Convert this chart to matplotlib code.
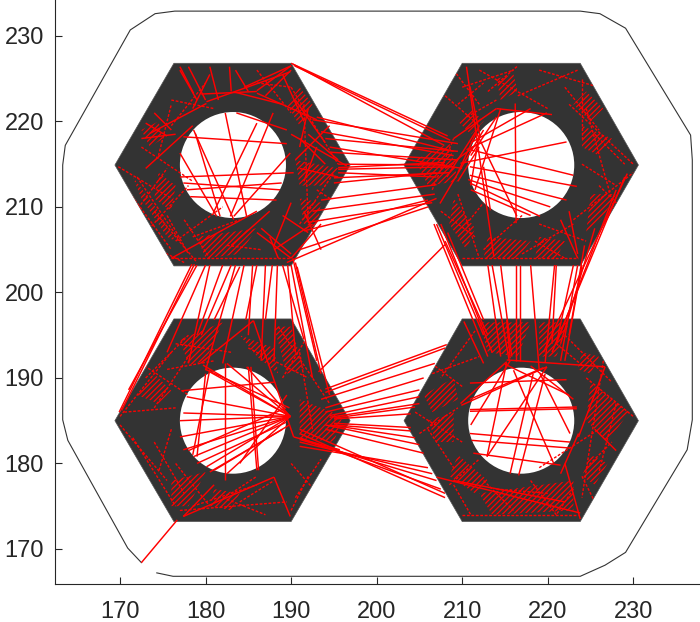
"""
Toolpath plot: four hex nuts with their red travel moves
"""
import matplotlib
matplotlib.use('Agg')
import matplotlib.pyplot as plt
from matplotlib.patches import Polygon, Circle

# part outline (open at the bottom left)
outline_x = [174.3, 176.2, 223.8, 226.7, 229.1, 236.3, 236.9, 236.9, 236.7, 229.1, 226.1, 223.8,
             176.4, 174.1, 171.2, 163.6, 163.3, 163.3, 163.9, 170.9, 172.5]
outline_y = [167.2, 166.8, 166.8, 168.1, 169.6, 181.6, 185.1, 215.5, 218.4, 230.9, 232.6, 232.9,
             232.9, 232.6, 230.7, 217.2, 214.9, 185.1, 182.7, 170.1, 168.4]

# hexagons
hex_tl = [(169.4, 214.9), (176.3, 226.8), (190.0, 226.8), (196.9, 214.9), (190.0, 203.1), (176.3, 203.1)]
hex_tr = [(203.2, 214.9), (210.0, 226.8), (223.8, 226.8), (230.6, 214.9), (223.8, 203.1), (210.0, 203.1)]
hex_bl = [(169.4, 185.0), (176.3, 196.9), (190.0, 196.9), (196.9, 185.0), (190.0, 173.2), (176.3, 173.2)]
hex_br = [(203.2, 185.0), (210.0, 196.9), (223.8, 196.9), (230.6, 185.0), (223.8, 173.2), (210.0, 173.2)]
hole_centers = [(183.2, 214.9), (216.9, 214.9), (183.2, 185.0), (216.9, 185.0)]
hole_radius = 6.2

# long moves between the nuts: x1, y1, x2, y2
lead_in = [[172.5, 168.4, 176.7, 173.4]]
top_bridges = [
    [190.0, 226.8, 208.3, 218.3], [190.2, 226.7, 207.9, 217.2], [190.4, 226.5, 208.6, 217.8],
    [193.0, 220.5, 209.0, 216.5], [192.5, 220.2, 209.5, 217.4], [193.5, 218.8, 209.0, 216.0],
    [194.0, 218.0, 209.5, 216.5], [194.5, 217.0, 210.0, 214.5], [194.5, 216.4, 209.5, 215.5],
    [195.5, 215.0, 208.0, 214.9], [195.5, 214.6, 208.0, 215.2], [195.5, 214.4, 209.0, 214.7],
    [195.5, 214.0, 207.0, 213.5], [195.0, 213.4, 208.5, 214.0], [195.0, 212.8, 207.0, 214.0],
    [193.5, 210.8, 207.0, 212.6], [192.5, 209.5, 206.8, 211.5], [192.0, 208.2, 206.5, 210.5],
    [191.5, 207.2, 206.0, 210.8], [191.0, 205.0, 206.0, 210.0], [189.5, 203.5, 207.0, 211.0],
]
left_bridges = [
    [178.4, 203.3, 169.9, 186.0], [178.7, 203.3, 170.2, 186.2], [179.0, 203.2, 171.0, 188.6],
    [180.0, 203.2, 175.5, 193.0], [180.5, 203.2, 178.0, 191.7], [182.0, 203.2, 179.0, 195.0],
    [183.0, 203.2, 179.5, 195.0], [183.5, 203.2, 180.0, 190.9], [184.0, 203.0, 181.0, 196.8],
    [184.5, 203.2, 182.0, 191.7], [185.5, 203.2, 185.0, 195.0], [186.0, 203.2, 184.7, 196.8],
    [187.0, 203.2, 186.5, 192.0], [187.8, 203.2, 187.0, 196.8], [188.4, 203.2, 188.0, 192.0],
    [189.0, 203.2, 191.5, 194.5], [189.6, 203.2, 190.5, 193.0], [190.0, 203.2, 192.5, 190.0],
    [190.5, 203.5, 193.5, 190.5], [190.7, 203.0, 194.5, 188.0], [190.2, 204.0, 193.0, 192.0],
]
right_bridges = [
    [206.7, 208.0, 213.0, 192.5], [207.0, 208.0, 212.5, 195.0], [207.5, 208.0, 213.5, 193.0],
    [208.0, 206.0, 213.0, 195.0], [208.3, 207.0, 212.5, 196.8], [213.0, 203.2, 214.5, 192.5],
    [213.5, 203.2, 215.5, 192.0], [214.5, 203.2, 215.8, 192.5], [216.3, 203.2, 216.3, 192.0],
    [216.8, 203.2, 216.8, 192.0], [218.0, 203.2, 219.0, 191.0], [220.8, 203.2, 219.7, 191.8],
    [221.0, 203.2, 220.5, 194.0], [223.0, 203.2, 221.0, 194.0], [223.5, 203.2, 221.5, 192.0],
    [224.0, 203.2, 222.0, 192.0], [224.3, 205.5, 222.5, 195.0], [225.5, 207.5, 221.5, 194.0],
    [229.3, 213.9, 219.5, 193.0], [229.0, 213.5, 220.5, 193.0], [228.0, 212.0, 221.0, 194.0],
]
bottom_bridges = [
    [194.0, 188.7, 208.2, 193.9], [194.0, 188.3, 208.0, 193.5], [193.5, 187.5, 206.8, 191.7],
    [194.0, 186.5, 205.5, 190.0], [194.0, 186.0, 205.0, 188.6], [194.5, 185.6, 205.0, 187.8],
    [194.5, 185.4, 205.0, 187.0], [195.0, 185.3, 204.5, 186.6], [195.0, 185.2, 204.0, 185.8],
    [195.0, 184.7, 204.0, 184.2], [195.0, 184.5, 204.0, 183.8], [194.5, 184.5, 204.5, 183.0],
    [194.0, 184.5, 205.0, 182.2], [194.0, 184.0, 205.5, 181.2], [191.0, 184.0, 208.0, 176.5],
    [191.0, 183.5, 208.0, 176.0], [191.0, 183.0, 207.5, 177.0], [191.0, 182.8, 207.0, 178.0],
    [191.0, 182.5, 206.5, 178.8], [191.0, 182.0, 206.0, 179.5], [193.2, 190.7, 208.0, 205.6],
]

# moves inside each nut, crossing the holes
tl_chords = [
    [182.3, 221.0, 184.8, 208.9], [178.8, 218.6, 181.7, 208.9], [177.0, 216.3, 181.3, 208.9],
    [178.6, 219.0, 183.3, 208.5], [187.9, 221.0, 182.9, 208.9], [186.0, 219.8, 180.9, 209.3],
    [189.9, 216.3, 183.3, 208.9], [177.0, 213.5, 190.3, 214.0], [177.4, 218.2, 189.5, 217.4],
    [177.4, 212.8, 188.7, 212.0], [177.8, 212.0, 188.9, 212.8], [178.2, 211.2, 188.3, 210.8],
    [183.6, 221.0, 189.5, 219.0], [173.5, 218.6, 180.1, 222.1], [180.1, 222.3, 189.9, 225.8],
    [179.5, 223.2, 186.0, 223.5], [186.0, 223.3, 193.0, 220.2], [177.0, 226.4, 178.6, 223.3],
    [178.0, 226.4, 180.0, 222.5], [180.5, 226.4, 181.5, 222.5], [182.8, 226.4, 183.0, 223.5],
    [183.5, 226.0, 185.0, 223.5], [186.0, 223.6, 190.0, 226.5], [187.0, 223.0, 190.0, 226.0],
    [190.0, 218.5, 196.5, 214.8], [190.5, 215.5, 194.5, 219.5], [191.0, 218.0, 194.0, 215.0],
    [191.0, 214.5, 195.5, 213.5], [191.5, 213.0, 193.0, 217.0], [188.0, 205.0, 192.5, 208.0],
    [186.0, 207.0, 190.0, 204.0], [183.0, 205.5, 187.5, 209.5], [190.0, 204.0, 193.5, 208.0],
    [176.0, 204.0, 186.0, 209.5], [173.0, 214.5, 178.5, 219.5], [172.5, 218.0, 176.5, 218.5],
    [188.0, 205.5, 190.0, 210.5], [192.0, 207.0, 189.0, 209.0], [177.0, 226.0, 179.0, 222.5],
    [184.5, 224.0, 190.0, 226.5], [183.5, 223.4, 189.0, 222.0], [189.0, 225.5, 191.5, 220.0],
    [190.5, 222.5, 194.0, 217.5], [192.0, 221.5, 191.0, 217.0], [192.0, 218.5, 195.5, 215.5],
    [190.0, 204.5, 186.5, 207.5], [187.5, 206.5, 188.5, 204.0], [191.5, 209.5, 193.5, 205.0],
    [174.0, 221.0, 176.0, 219.0], [173.0, 219.8, 175.5, 218.3], [180.5, 225.5, 178.5, 221.5],
]
tr_chords = [
    [210.5, 226.4, 213.7, 204.2], [210.9, 224.1, 212.1, 218.2], [216.2, 222.1, 216.3, 208.1],
    [210.9, 216.7, 223.0, 213.7], [210.9, 214.7, 223.4, 212.4], [210.9, 213.7, 222.2, 210.8],
    [210.7, 213.2, 220.3, 210.0], [210.9, 212.8, 219.1, 208.9], [211.7, 218.6, 216.4, 208.9],
    [209.8, 215.1, 222.2, 217.6], [210.5, 216.7, 219.9, 221.0], [207.4, 210.4, 212.5, 219.0],
    [208.2, 213.5, 211.7, 219.0], [212.5, 214.7, 213.3, 209.6], [211.0, 217.5, 218.0, 221.5],
    [209.0, 218.0, 214.0, 221.5], [214.0, 221.5, 220.5, 220.8], [209.5, 214.0, 212.0, 219.5],
    [211.5, 212.0, 214.5, 221.5], [211.0, 216.0, 214.0, 220.5], [222.5, 209.5, 223.5, 204.5],
    [211.0, 212.0, 218.0, 209.0], [212.0, 218.5, 211.0, 212.5], [221.5, 208.5, 223.5, 204.0],
    [208.0, 214.5, 212.0, 217.5], [212.0, 217.0, 209.5, 213.0],
]
bl_chords = [
    [189.9, 185.5, 177.8, 187.8], [189.9, 185.5, 177.4, 185.9], [189.9, 185.5, 177.0, 185.0],
    [189.9, 185.5, 177.0, 183.1], [189.9, 185.5, 177.4, 181.6], [189.9, 185.5, 178.6, 180.8],
    [189.9, 185.5, 180.1, 179.6], [189.9, 185.5, 182.5, 178.8], [189.9, 185.5, 180.5, 190.7],
    [189.9, 185.5, 179.7, 191.5], [189.9, 185.5, 182.5, 191.7], [189.9, 185.5, 184.8, 191.3],
    [189.4, 184.8, 179.0, 180.0], [189.4, 186.5, 178.0, 181.5], [189.0, 184.0, 180.5, 179.0],
    [188.0, 189.5, 177.2, 188.5], [182.3, 191.7, 182.3, 178.1], [185.0, 191.3, 186.0, 179.2],
    [185.3, 191.3, 186.2, 179.2], [180.0, 190.5, 179.0, 180.8], [180.5, 191.0, 178.5, 181.0],
    [179.4, 191.7, 185.6, 196.7], [185.6, 196.7, 190.3, 183.1], [190.3, 183.1, 195.7, 181.6],
    [188.0, 178.4, 189.9, 173.8], [188.0, 178.4, 177.4, 173.8], [177.4, 173.8, 181.0, 177.5],
    [184.0, 180.0, 189.5, 188.0], [189.8, 186.5, 180.0, 191.0], [189.8, 184.5, 181.0, 179.2],
]
br_chords = [
    [210.2, 196.6, 212.5, 191.7], [215.2, 196.8, 215.6, 192.3], [215.2, 192.1, 226.7, 191.3],
    [226.7, 191.3, 223.6, 183.1], [223.6, 183.5, 221.5, 178.8], [207.0, 178.4, 223.8, 174.2],
    [223.8, 173.5, 222.0, 180.0], [210.9, 186.3, 223.4, 186.6], [210.9, 186.1, 223.4, 186.4],
    [210.9, 183.5, 222.6, 182.5], [211.1, 182.7, 222.6, 181.8], [211.3, 181.2, 221.5, 179.8],
    [212.9, 180.8, 219.9, 191.3], [215.6, 178.8, 218.3, 190.5], [216.6, 178.6, 219.7, 190.5],
    [220.7, 180.0, 216.0, 190.9], [222.6, 183.5, 219.1, 190.5], [209.8, 187.0, 215.2, 191.9],
    [209.9, 186.8, 219.9, 191.3], [210.9, 189.4, 222.2, 189.8], [210.9, 187.5, 219.5, 191.2],
    [215.2, 191.8, 212.9, 180.8], [215.6, 192.0, 211.0, 184.5], [218.0, 191.4, 223.0, 187.5],
    [215.0, 191.6, 222.5, 188.0], [225.5, 184.0, 228.0, 181.5], [222.0, 175.5, 209.0, 178.0],
]

# short dashed infill lines
tl_dots = [
    [169.8, 214.7, 176.0, 211.0], [170.5, 212.5, 176.0, 205.0], [172.0, 213.5, 177.0, 206.0],
    [174.0, 209.5, 179.0, 203.5], [173.0, 207.0, 178.0, 212.5], [176.5, 206.0, 182.0, 210.0],
    [176.0, 204.0, 190.0, 204.0], [190.0, 224.0, 195.5, 215.0], [191.5, 222.0, 192.0, 208.0],
    [176.0, 219.5, 180.0, 224.5], [172.5, 217.0, 178.5, 213.0], [186.0, 226.0, 190.0, 221.0],
    [173.5, 205.5, 177.5, 203.5], [171.5, 209.0, 175.5, 214.5], [175.5, 209.0, 178.0, 204.5],
    [177.5, 208.5, 180.5, 204.0], [178.5, 206.5, 184.0, 208.5], [182.5, 205.5, 186.5, 205.0],
    [176.0, 222.5, 181.0, 221.5], [174.5, 216.0, 176.0, 222.0], [193.0, 212.0, 196.0, 210.0],
    [191.0, 208.0, 195.0, 214.0], [186.0, 224.5, 190.0, 224.0],
]
tr_dots = [
    [208.0, 223.0, 212.0, 219.5], [210.0, 224.0, 216.0, 226.0], [212.0, 226.0, 220.0, 221.5],
    [216.5, 223.0, 223.5, 226.0], [222.5, 222.0, 230.0, 215.0], [224.0, 225.0, 224.0, 218.0],
    [223.0, 208.5, 230.0, 214.0], [224.5, 221.5, 228.0, 209.0], [210.0, 204.0, 223.5, 204.0],
    [209.5, 211.5, 212.0, 204.0], [212.5, 205.0, 217.0, 209.0], [217.0, 204.5, 223.0, 208.0],
    [206.5, 212.0, 209.0, 218.0], [209.5, 222.0, 212.5, 224.5], [213.0, 223.5, 216.5, 226.5],
    [205.5, 211.0, 208.0, 205.5], [207.5, 209.5, 211.5, 206.5], [210.5, 208.0, 212.5, 210.5],
    [218.5, 206.0, 222.0, 204.0], [219.0, 208.0, 224.5, 206.0], [225.5, 218.5, 229.0, 215.0],
    [222.0, 224.0, 226.0, 219.0], [219.0, 226.0, 226.0, 224.0], [214.0, 222.5, 210.5, 220.5],
    [226.0, 212.5, 228.5, 210.0], [209.0, 226.0, 212.0, 222.0], [224.0, 215.0, 228.0, 212.5],
]
bl_dots = [
    [170.0, 185.5, 176.0, 193.0], [171.5, 183.0, 176.5, 175.0], [174.0, 186.5, 178.0, 192.5],
    [170.0, 184.5, 175.5, 178.0], [174.0, 182.5, 177.5, 176.5], [177.0, 174.5, 189.5, 175.5],
    [178.5, 175.0, 186.0, 177.5], [176.5, 194.0, 183.0, 193.0], [188.5, 196.0, 194.5, 187.0],
    [191.0, 193.0, 192.5, 184.0], [192.0, 178.5, 190.0, 174.5], [173.0, 190.0, 178.0, 195.0],
    [176.5, 180.0, 180.5, 175.0], [184.0, 175.5, 188.0, 178.0], [175.5, 191.0, 181.0, 192.0],
    [172.0, 192.0, 178.0, 188.0], [170.5, 186.0, 176.5, 186.5], [182.0, 176.0, 187.0, 174.0],
    [190.0, 180.0, 193.5, 176.0], [190.5, 176.0, 193.5, 180.5], [185.0, 193.5, 192.0, 190.0],
    [189.0, 190.0, 192.0, 195.0], [176.0, 184.0, 174.5, 179.0], [183.0, 176.5, 186.0, 178.5],
]
br_dots = [
    [206.0, 184.0, 209.0, 179.5], [209.0, 177.5, 211.0, 174.0], [204.5, 186.0, 210.0, 182.5],
    [206.5, 190.5, 212.0, 192.5], [224.5, 190.0, 230.0, 185.5], [228.0, 187.0, 226.0, 179.0],
    [226.5, 192.0, 224.0, 176.0], [219.0, 179.5, 226.0, 184.0], [223.0, 177.0, 221.0, 174.0],
    [210.0, 174.0, 223.5, 174.0], [212.5, 178.0, 216.0, 174.5], [218.0, 178.0, 221.0, 174.0],
    [221.0, 194.0, 224.0, 191.5], [205.0, 183.5, 209.5, 186.5], [206.0, 192.0, 210.0, 189.0],
    [208.5, 177.5, 212.0, 180.5], [224.5, 179.5, 227.5, 182.5], [222.0, 195.0, 227.5, 189.5],
    [224.0, 178.5, 225.5, 175.5], [214.0, 177.0, 220.0, 176.5], [211.5, 195.5, 207.5, 190.0],
]

# denser hatched patches of infill (corners of each patch)
hatch_patches = [
    [(171.5, 213.5), (174.5, 209.5), (176.5, 206.0), (175.5, 206.5), (172.5, 211.0)],
    [(179.0, 206.5), (186.0, 207.5), (184.0, 204.5), (180.0, 204.0)],
    [(190.5, 215.5), (195.5, 214.5), (194.0, 212.5), (191.0, 212.5)],
    [(172.5, 219.0), (174.5, 220.0), (175.0, 218.0), (173.5, 217.0)],
    [(174.5, 214.0), (176.5, 212.5), (176.0, 209.5), (174.0, 211.0)],
    [(191.0, 211.0), (193.5, 210.5), (193.0, 207.5), (191.5, 208.0)],
    [(191.0, 224.0), (192.5, 222.0), (191.0, 219.5), (189.5, 222.0)],
    [(204.5, 215.5), (208.5, 217.5), (209.5, 213.0), (206.0, 212.5)],
    [(209.0, 211.0), (211.5, 207.5), (210.5, 205.0), (208.5, 208.0)],
    [(224.5, 223.5), (226.5, 221.5), (225.0, 220.0), (223.0, 222.0)],
    [(225.0, 211.5), (228.0, 211.5), (226.3, 208.5), (224.5, 207.0)],
    [(213.0, 206.5), (218.0, 206.0), (216.5, 204.0), (212.5, 204.0)],
    [(216.5, 223.5), (216.0, 225.5), (214.0, 225.0), (214.5, 222.5)],
    [(219.0, 206.5), (222.0, 206.0), (221.0, 204.0), (218.5, 204.0)],
    [(209.5, 220.0), (211.0, 221.5), (212.5, 220.0), (211.0, 218.5)],
    [(224.0, 219.5), (227.5, 218.0), (226.0, 216.0), (224.0, 217.0)],
    [(174.0, 190.5), (176.0, 188.5), (174.5, 187.0), (172.0, 188.0)],
    [(177.0, 194.5), (182.0, 196.5), (180.0, 192.0), (178.0, 191.5)],
    [(184.0, 195.0), (188.0, 193.5), (188.5, 190.5), (186.0, 192.5)],
    [(191.0, 187.5), (196.0, 185.5), (195.0, 182.5), (191.0, 183.0)],
    [(176.0, 178.0), (180.0, 179.0), (178.0, 175.0), (176.0, 175.0)],
    [(188.0, 196.0), (190.0, 196.0), (191.5, 191.0), (189.5, 190.5)],
    [(181.0, 177.0), (184.0, 176.5), (183.0, 174.5), (180.5, 175.0)],
    [(212.0, 196.5), (218.0, 196.5), (216.5, 192.5), (213.0, 193.0)],
    [(219.0, 196.5), (222.5, 196.5), (221.0, 192.5), (219.0, 192.5)],
    [(205.5, 188.0), (209.0, 190.0), (209.5, 187.5), (206.5, 186.0)],
    [(206.0, 185.0), (209.0, 186.0), (209.0, 182.5), (207.0, 182.5)],
    [(225.0, 189.5), (229.5, 186.0), (227.0, 182.5), (224.5, 185.0)],
    [(212.0, 176.5), (223.0, 178.0), (223.0, 174.5), (213.5, 174.0)],
    [(209.5, 181.0), (213.0, 178.0), (211.5, 176.5), (208.5, 178.5)],
    [(224.0, 193.0), (226.0, 192.5), (225.0, 190.5), (223.5, 191.0)],
    [(225.0, 181.0), (227.0, 180.0), (225.5, 177.5), (224.0, 178.5)],
]

xticks = [170, 180, 190, 200, 210, 220, 230]
yticks = [170, 180, 190, 200, 210, 220, 230]

DARK = '#333333'
AXIS = '#262626'


def draw_segments(ax, segments, clip=None, **style):
    for x1, y1, x2, y2 in segments:
        line, = ax.plot([x1, x2], [y1, y2], color='red', solid_capstyle='butt', **style)
        if clip is not None:
            line.set_clip_path(clip)


def main():
    plt.rcParams['font.family'] = ['Liberation Sans', 'DejaVu Sans']
    plt.rcParams['hatch.linewidth'] = 0.9

    fig = plt.figure(figsize=(7.0, 6.22), dpi=100)
    ax = fig.add_axes([55 / 700, 38 / 622, 645 / 700, 584 / 622])

    ax.plot(outline_x, outline_y, color=DARK, lw=0.8)

    hexes = [hex_tl, hex_tr, hex_bl, hex_br]
    hex_patches = []
    for verts in hexes:
        patch = Polygon(verts, closed=True, facecolor=DARK, edgecolor='#555555', lw=0.5)
        ax.add_patch(patch)
        hex_patches.append(patch)
    for center in hole_centers:
        ax.add_patch(Circle(center, hole_radius, facecolor='white', edgecolor='none'))

    for verts in hatch_patches:
        ax.add_patch(Polygon(verts, closed=True, fill=False, edgecolor='red', hatch='//////', lw=0))

    # infill stays inside its own nut
    for dots, patch in zip([tl_dots, tr_dots, bl_dots, br_dots], hex_patches):
        draw_segments(ax, dots, clip=patch, lw=1.0, ls=(0, (2, 1.2)))

    for chords in [tl_chords, tr_chords, bl_chords, br_chords]:
        draw_segments(ax, chords, lw=1.05)

    for bridges in [lead_in, top_bridges, left_bridges, right_bridges, bottom_bridges]:
        draw_segments(ax, bridges, lw=1.05)

    ax.set_xlim(162.4, 237.8)
    ax.set_ylim(165.9, 234.2)
    ax.set_xticks(xticks)
    ax.set_yticks(yticks)
    ax.spines['top'].set_visible(False)
    ax.spines['right'].set_visible(False)
    ax.spines['left'].set_color(AXIS)
    ax.spines['bottom'].set_color(AXIS)
    ax.tick_params(axis='x', direction='in', length=5, width=0.8, color=AXIS, labelcolor=AXIS,
                   labelsize=17, pad=12)
    ax.tick_params(axis='y', direction='in', length=5, width=0.8, color=AXIS, labelcolor=AXIS,
                   labelsize=17, pad=8)

    fig.savefig('out.png', dpi=100)


if __name__ == '__main__':
    main()
